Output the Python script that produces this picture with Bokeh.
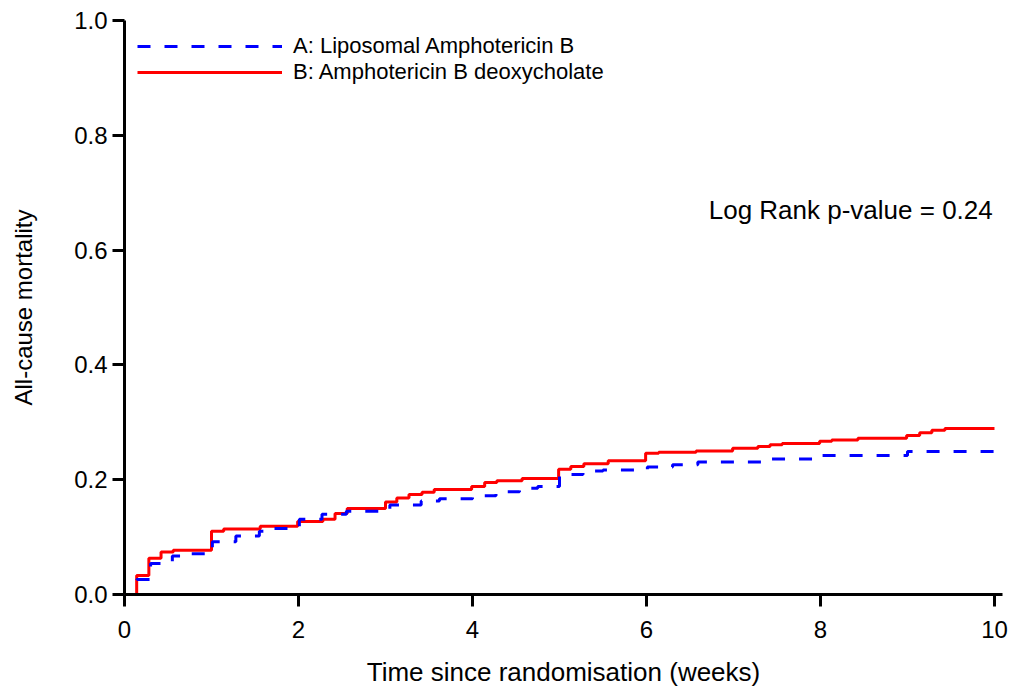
from bokeh.plotting import figure
from bokeh.models import FixedTicker, PrintfTickFormatter, Legend, LegendItem, Label, Range1d
from bokeh.embed import file_html
from bokeh.resources import INLINE

# ---- data ----
time_b = [0, 0.14, 0.28, 0.42, 0.56, 1.0, 1.14, 1.56, 1.99, 2.28, 2.42, 2.56, 3.0, 3.13, 3.27, 3.42,
          3.56, 3.99, 4.14, 4.28, 4.57, 4.99, 5.13, 5.28, 5.56, 5.99, 6.14, 6.57, 6.99, 7.28, 7.42,
          7.56, 7.99, 8.13, 8.43, 8.99, 9.14, 9.28, 9.43, 10.0]
mort_b = [0, 0.033, 0.063, 0.074, 0.077, 0.110, 0.114, 0.119, 0.127, 0.131, 0.141, 0.150, 0.161,
          0.168, 0.174, 0.178, 0.183, 0.188, 0.195, 0.198, 0.202, 0.218, 0.223, 0.228, 0.233, 0.246,
          0.248, 0.250, 0.255, 0.258, 0.261, 0.263, 0.267, 0.269, 0.272, 0.277, 0.282, 0.286, 0.289,
          0.289]

time_a = [0, 0.14, 0.30, 0.55, 0.75, 1.01, 1.28, 1.55, 1.70, 2.01, 2.27, 2.55, 3.05, 3.41, 3.62,
          4.0, 4.27, 4.54, 4.75, 5.0, 5.27, 5.5, 6.01, 6.3, 6.59, 7.41, 7.99, 9.0, 10.0]
mort_a = [0, 0.026, 0.054, 0.067, 0.071, 0.092, 0.102, 0.110, 0.115, 0.131, 0.140, 0.145, 0.156,
          0.163, 0.167, 0.172, 0.179, 0.185, 0.188, 0.209, 0.215, 0.217, 0.222, 0.226, 0.231, 0.236,
          0.242, 0.249, 0.249]

label_a = "A: Liposomal Amphotericin B"
label_b = "B: Amphotericin B deoxycholate"
x_ticks = [0, 2, 4, 6, 8, 10]
y_ticks = [0.0, 0.2, 0.4, 0.6, 0.8, 1.0]
x_title = "Time since randomisation (weeks)"
y_title = "All-cause mortality"
annot_text = "Log Rank p-value = 0.24"
annot_x, annot_y = 9.98, 0.67

FONT = "Liberation Sans"

p = figure(width=1010, height=690, output_backend="svg", toolbar_location=None,
           x_range=Range1d(0, 10.092), y_range=Range1d(0, 1.0),
           min_border_left=124, min_border_right=8, min_border_top=20, min_border_bottom=96)
p.outline_line_color = None
p.grid.visible = False

r_b = p.step(time_b, mort_b, mode="after", line_color="#FF0000", line_width=3)
r_a = p.step(time_a, mort_a, mode="after", line_color="#0000FF", line_width=3, line_dash="13 14")

for ax in (p.xaxis[0], p.yaxis[0]):
    ax.axis_line_width = 3
    ax.axis_line_color = "black"
    ax.major_tick_line_width = 3
    ax.major_tick_line_color = "black"
    ax.major_tick_out = 12
    ax.major_tick_in = 0
    ax.minor_tick_line_color = None
    ax.major_label_text_font = FONT
    ax.major_label_text_font_size = "24px"
    ax.major_label_text_color = "black"
    ax.axis_label_text_font = FONT
    ax.axis_label_text_font_style = "normal"
    ax.axis_label_text_color = "black"

p.xaxis.axis_label_text_font_size = "26px"
p.yaxis.axis_label_text_font_size = "24px"
p.xaxis.ticker = FixedTicker(ticks=x_ticks)
p.yaxis.ticker = FixedTicker(ticks=y_ticks)
p.xaxis.formatter = PrintfTickFormatter(format="%d")
p.yaxis.formatter = PrintfTickFormatter(format="%.1f")
p.xaxis.axis_label = x_title
p.yaxis.axis_label = y_title
p.xaxis.major_label_standoff = 14
p.yaxis.major_label_standoff = 5
p.xaxis.axis_label_standoff = 16
p.yaxis.axis_label_standoff = 34

legend = Legend(items=[LegendItem(label=label_a, renderers=[r_a]),
                       LegendItem(label=label_b, renderers=[r_b])],
                location="top_left", glyph_width=145, glyph_height=26, label_height=26,
                spacing=0, padding=13, margin=0, label_standoff=11,
                label_text_font=FONT, label_text_font_size="22px", label_text_color="black",
                border_line_alpha=0, background_fill_alpha=0)
p.add_layout(legend)

p.add_layout(Label(x=annot_x, y=annot_y, text=annot_text, text_align="right",
                   text_baseline="middle", text_font=FONT, text_font_size="26px",
                   text_color="black"))

open("out.html", "w").write(file_html(p, INLINE))
